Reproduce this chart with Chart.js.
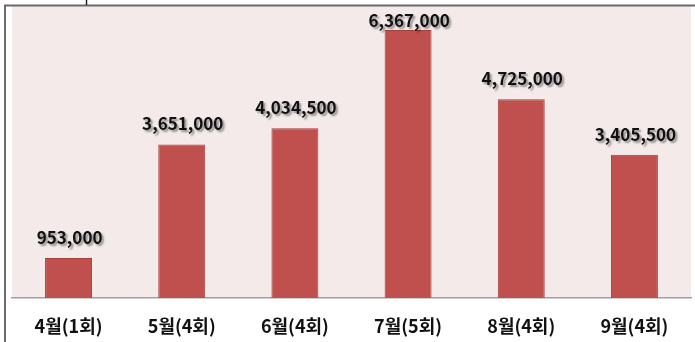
<!DOCTYPE html>
<html><head><meta charset="utf-8">
<script src="https://cdn.jsdelivr.net/npm/chart.js@4"></script>
<style>html,body{margin:0;padding:0;background:#fff}#w{width:695px;height:342px;position:relative}</style>
</head><body><div id="w"><canvas id="c"></canvas></div>
<script>
const categories = ['4월(1회)','5월(4회)','6월(4회)','7월(5회)','8월(4회)','9월(4회)'];
const values = [953000, 3651000, 4034500, 6367000, 4725000, 3405500];
const yMax = 6940000;

const frame = {
  id:'frame',
  beforeDraw(chart){
    const {ctx, chartArea:a} = chart;
    ctx.save();
    ctx.fillStyle = '#F4EAEA';
    ctx.fillRect(a.left, a.top, a.right-a.left, a.bottom-a.top);
    ctx.strokeStyle = '#6b6b6b';
    ctx.lineWidth = 2;
    ctx.beginPath();
    ctx.moveTo(5, 342); ctx.lineTo(5, 5.5); ctx.lineTo(695, 5.5);
    ctx.stroke();
    ctx.lineWidth = 1.5;
    ctx.strokeStyle = '#222';
    ctx.beginPath(); ctx.moveTo(86.5,0); ctx.lineTo(86.5,5); ctx.stroke();
    ctx.restore();
  },
  afterDatasetsDraw(chart){
    const {ctx, chartArea:a} = chart;
    const meta = chart.getDatasetMeta(0);
    ctx.save();
    ctx.font = 'bold 17px "Noto Sans CJK KR", sans-serif';
    ctx.textAlign = 'center';
    ctx.textBaseline = 'alphabetic';
    ctx.shadowColor = 'rgba(0,0,0,0.4)';
    ctx.shadowOffsetX = 2; ctx.shadowOffsetY = 2; ctx.shadowBlur = 2;
    ctx.fillStyle = '#111';
    meta.data.forEach((b,i)=>{
      const y = Math.max(b.y - 14, a.top + 21);
      ctx.fillText(values[i].toLocaleString('en-US'), b.x + 1, y);
    });
    ctx.restore();
  }
};

new Chart(document.getElementById('c'), {
  type:'bar',
  data:{labels:categories, datasets:[{data:values, backgroundColor:'#C0504D', borderColor:'#A33F3C', borderWidth:1, barPercentage:0.415, categoryPercentage:1}]},
  options:{
    responsive:true, maintainAspectRatio:false, animation:false,
    layout:{padding:{left:12, right:4, top:6, bottom:0}},
    plugins:{legend:{display:false}, tooltip:{enabled:false}},
    scales:{
      x:{grid:{display:false, drawTicks:false}, border:{display:true, color:'#A0A0A0', width:1.5},
         ticks:{color:'#111', font:{family:'"Noto Sans CJK KR", sans-serif', size:18, weight:'bold'}, padding:17},
         afterFit(s){ s.height = 44; }},
      y:{display:false, min:0, max:yMax}
    }
  },
  plugins:[frame]
});
</script></body></html>
